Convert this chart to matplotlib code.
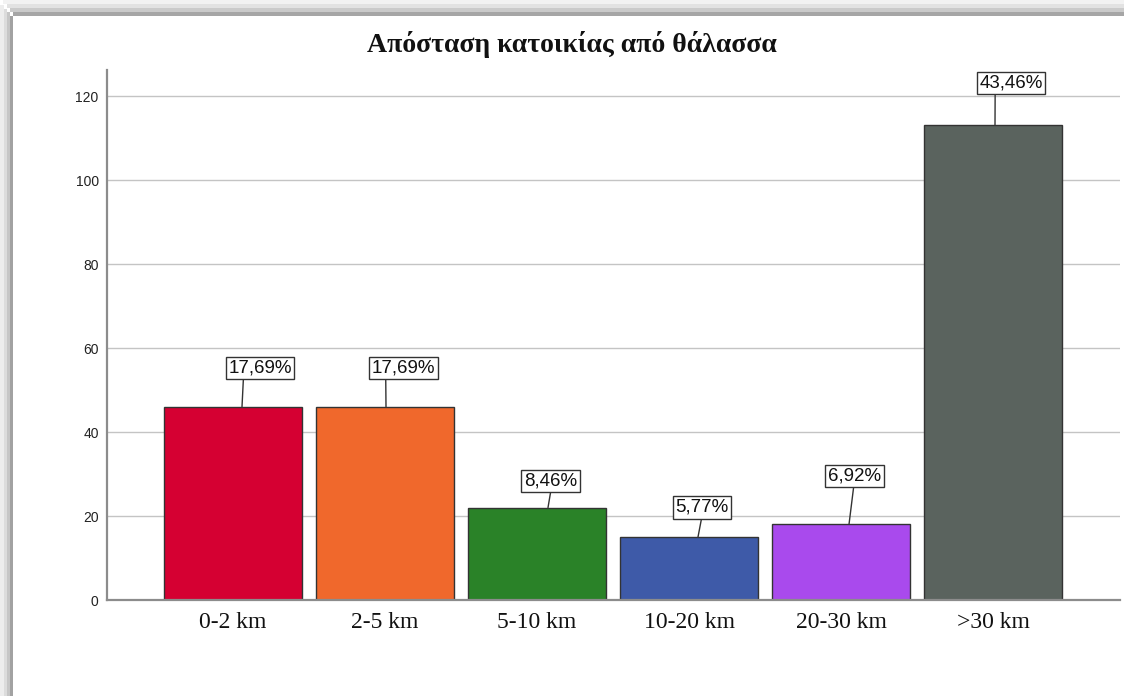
import matplotlib
matplotlib.use("Agg")
import matplotlib.pyplot as plt
from matplotlib.patches import Rectangle

# ---- data ----
categories = ["0-2 km", "2-5 km", "5-10 km", "10-20 km", "20-30 km", ">30 km"]
counts = [46, 46, 22, 15, 18, 113]
pct_labels = ["17,69%", "17,69%", "8,46%", "5,77%", "6,92%", "43,46%"]
title = "Απόσταση κατοικίας από θάλασσα"
yticks = [0, 20, 40, 60, 80, 100, 120]

# ---- style ----
bar_colors = ["#d50032", "#f0682c", "#2a8228", "#3e5aa8", "#a94aed", "#5a635e"]
W, H = 1124, 696
DPI = 100
PX_PER_CAT = 152.0

# label placement (pixels): line-foot offset from bar centre, box offset from foot, attach point
line_foot_dx = [9, 1, 11, 9, 8, 2]
box_dx = [18, 17.5, 2.5, 4, 5.5, 16]
box_dy = [38.5, 38.5, 26.5, 29.5, 48.5, 42.5]
attach_rx = [0.24, 0.22, 0.51, 0.5, 0.49, 0.25]

fig = plt.figure(figsize=(W / DPI, H / DPI), dpi=DPI, facecolor="white")

def fx(px):
    return px / W

def fy(py_top):
    return 1 - py_top / H

# frame shadow (top and left bands)
top_cols = ["#f2f2f2", "#e2e2e2", "#cacaca", "#a6a6a6"]
top_edges = [0, 4, 8, 12, 16]
for c, a, b in zip(top_cols, top_edges[:-1], top_edges[1:]):
    fig.patches.append(Rectangle((fx(13 - (16 - b) * 0.8), fy(b)), 1.0, (b - a) / H,
                                 transform=fig.transFigure, fc=c, ec="none", zorder=0))
left_cols = ["#ededed", "#dcdcdc", "#c6c6c6", "#a2a2a2"]
left_edges = [0, 4, 7, 10, 13]
for c, a, b in zip(left_cols, left_edges[:-1], left_edges[1:]):
    fig.patches.append(Rectangle((fx(a), 0), (b - a) / W, fy(16 - (13 - b) * 1.2),
                                 transform=fig.transFigure, fc=c, ec="none", zorder=0))

# axes placement
ax_left, ax_right, ax_top, ax_bottom = 107, 1120, 70, 600
ax = fig.add_axes([fx(ax_left), fy(ax_bottom), fx(ax_right - ax_left), (ax_bottom - ax_top) / H])
ax.set_facecolor("none")

x = list(range(len(categories)))
ax.bar(x, counts, width=138 / PX_PER_CAT, color=bar_colors, edgecolor="#333333",
       linewidth=1.0, zorder=3)

ax.set_xlim(-(233 - ax_left) / PX_PER_CAT, 5 + (ax_right - 993) / PX_PER_CAT)
ax.set_ylim(0, (ax_bottom - ax_top) / 4.2)

ax.set_yticks(yticks)
ax.set_yticklabels([str(t) for t in yticks], fontsize=10, family="Liberation Sans", color="#222222")
ax.set_xticks(x)
ax.set_xticklabels(categories, fontsize=17, family="Liberation Serif", color="#111111")
ax.tick_params(axis="y", length=0, pad=6)
ax.tick_params(axis="x", length=0, pad=9)

ax.grid(axis="y", color="#c4c4c4", linewidth=1.0, zorder=0)
ax.set_axisbelow(True)
for s in ["top", "right"]:
    ax.spines[s].set_visible(False)
for s in ["left", "bottom"]:
    ax.spines[s].set_color("#8c8c8c")
    ax.spines[s].set_linewidth(1.6)
    ax.spines[s].set_zorder(4)

for i, (v, lab) in enumerate(zip(counts, pct_labels)):
    ax.annotate(lab, xy=(i + line_foot_dx[i] / PX_PER_CAT, v),
                xytext=(box_dx[i], box_dy[i]), textcoords="offset pixels",
                ha="center", va="center", fontsize=13.5, family="Liberation Sans",
                color="#111111", zorder=6,
                bbox=dict(boxstyle="square,pad=0.14", fc="white", ec="#333333", lw=1.0),
                arrowprops=dict(arrowstyle="-", color="#333333", lw=1.0,
                                shrinkA=0, shrinkB=0, relpos=(attach_rx[i], 0.0)))

fig.text(fx(572), fy(45), title, ha="center", va="center", fontsize=20,
         fontweight="bold", family="Liberation Serif", color="#111111")

fig.savefig("out.png", dpi=DPI, facecolor="white")
